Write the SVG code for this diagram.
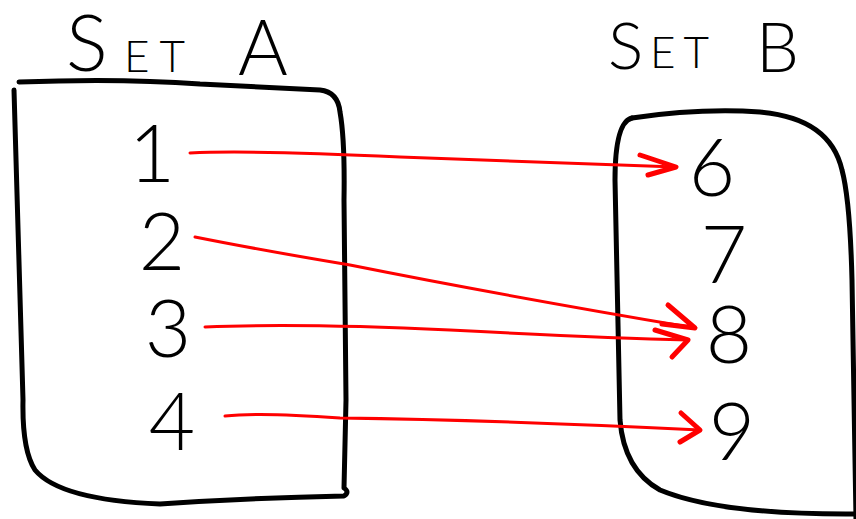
<svg xmlns="http://www.w3.org/2000/svg" width="856" height="519" viewBox="0 0 856 519">
<style>
.box{fill:none;stroke:#000;stroke-width:5;stroke-linecap:round;stroke-linejoin:round}
.num{font-family:Lato,"Liberation Sans",sans-serif;font-weight:300;font-size:80px;fill:#000;text-anchor:middle}
.ttl{font-family:Lato,"Liberation Sans",sans-serif;font-weight:300;fill:#000}
.ar{fill:none;stroke:#f00;stroke-width:3;stroke-linecap:round;stroke-linejoin:round}
.hd{fill:none;stroke:#f00;stroke-width:5;stroke-linecap:round;stroke-linejoin:round}
</style>
<rect width="856" height="519" fill="#fff"/>
<g id="setA">
<path class="box" d="M19 82 Q120 78 200 84 Q280 88 320 90 Q338 92 340 112 Q345 140 344 200 L346 400 L344 488 Q350 492 344 496 Q250 498 160 504 Q60 500 35 470 Q22 450 23 400 L14 90"/>
<text class="ttl"><tspan x="66" y="71" font-size="78">S</tspan><tspan x="124" y="72" font-size="44" letter-spacing="10">ET</tspan><tspan x="238" y="75" font-size="76">A</tspan></text>
<g id="a1"><text class="num" x="152" y="182">1</text></g>
<g id="a2"><text class="num" x="162" y="270">2</text></g>
<g id="a3"><text class="num" x="168" y="357">3</text></g>
<g id="a4"><text class="num" x="172" y="450">4</text></g>
</g>
<g id="setB">
<path class="box" d="M632 118 Q700 108 760 112 Q830 118 842 170 Q850 200 852 280 L856 519"/>
<path class="box" d="M632 118 Q615 122 615 180 L620 420 Q624 470 660 490 Q720 515 856 514"/>
<text class="ttl"><tspan x="608" y="69" font-size="66">S</tspan><tspan x="650" y="68" font-size="44" letter-spacing="8">ET</tspan><tspan x="756" y="72" font-size="68">B</tspan></text>
<g id="b6"><text class="num" x="712" y="196">6</text></g>
<g id="b7"><text class="num" x="724" y="283" font-size="78">7</text></g>
<g id="b8"><text class="num" x="729" y="363">8</text></g>
<g id="b9"><text class="num" x="732" y="460">9</text></g>
</g>
<g id="connectors">
<path class="ar" d="M190 153 Q250 150 400 157 Q550 163 676 167"/>
<path class="hd" d="M640 155 L676 167 L648 175"/>
<path class="ar" d="M195 237 Q260 250 350 265 Q500 295 695 328"/>
<path class="hd" d="M668 305 L695 328 L662 324"/>
<path class="ar" d="M205 327 Q300 323 450 330 Q600 338 688 340"/>
<path class="hd" d="M655 330 L688 340 L672 357"/>
<path class="ar" d="M225 416 Q260 412 340 418 Q500 420 700 430"/>
<path class="hd" d="M681 413 L700 430 L680 442"/>
</g>
</svg>
